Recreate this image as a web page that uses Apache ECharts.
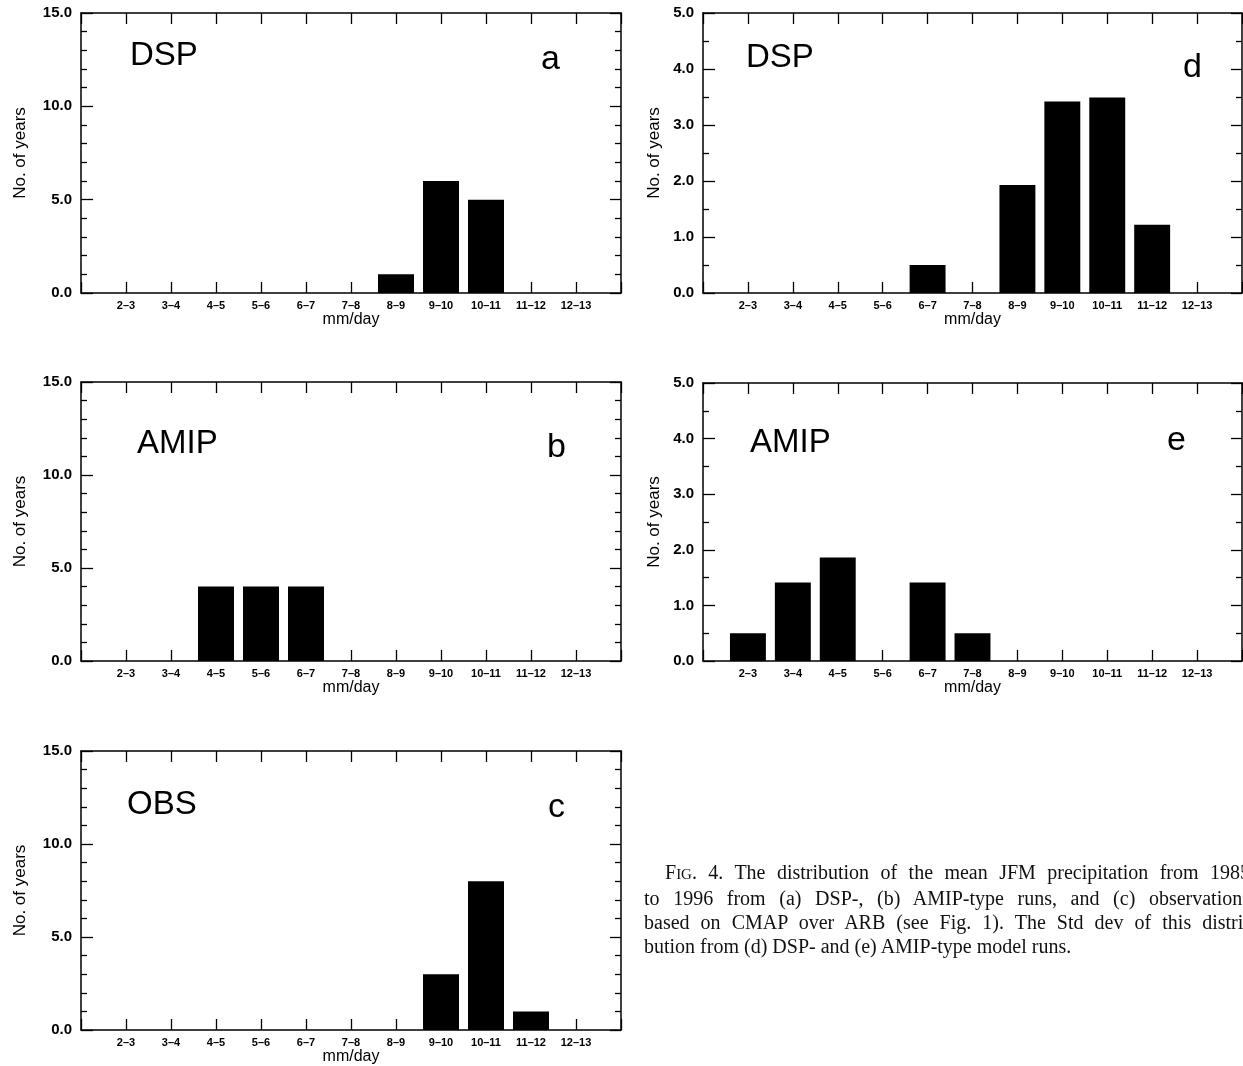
<!DOCTYPE html>
<html>
<head>
<meta charset="utf-8">
<script src="https://cdn.jsdelivr.net/npm/echarts@6/dist/echarts.min.js"></script>
<style>
  html, body { margin: 0; padding: 0; background: #fff; overflow: hidden; }
  #chart { position: absolute; left: 0; top: 0; width: 1243px; height: 1066px; }
  #cap { position: absolute; left: 644px; top: 860px; width: 606px; font-family: 'Liberation Serif', 'Times New Roman', serif; font-size: 20px; line-height: 24px; color: #111; z-index: 2; }
  #cap .j { text-align: justify; text-align-last: justify; }
</style>
</head>
<body>
<div id="chart"></div>
<div id="cap">
  <div class="j" style="text-indent:21px">F<span style="font-size:15px">IG</span>. 4. The distribution of the mean JFM precipitation from 1985</div>
  <div class="j">to 1996 from (a) DSP-, (b) AMIP-type runs, and (c) observations</div>
  <div class="j">based on CMAP over ARB (see Fig. 1). The Std dev of this distri-</div>
  <div>bution from (d) DSP- and (e) AMIP-type model runs.</div>
</div>
<script>
// ---- data ----
const categories = ['2–3','3–4','4–5','5–6','6–7','7–8','8–9','9–10','10–11','11–12','12–13'];
const dspCount  = [0, 0, 0, 0, 0, 0, 1, 6, 5, 0, 0];
const amipCount = [0, 0, 4, 4, 4, 0, 0, 0, 0, 0, 0];
const obsCount  = [0, 0, 0, 0, 0, 0, 0, 3, 8, 1, 0];
const dspStd    = [0, 0, 0, 0, 0.5, 0, 1.93, 3.42, 3.49, 1.22, 0];
const amipStd   = [0.5, 1.41, 1.86, 0, 1.41, 0.5, 0, 0, 0, 0, 0];
const countTickLabels = ['0.0', '5.0', '10.0', '15.0'];
const stdTickLabels   = ['0.0', '1.0', '2.0', '3.0', '4.0', '5.0'];
const panelNames = ['DSP', 'AMIP', 'OBS', 'DSP', 'AMIP'];
const panelLetters = ['a', 'b', 'c', 'd', 'e'];
const xName = 'mm/day';
const yName = 'No. of years';

// ---- layout / style ----
const FONT = "'Liberation Sans', Arial, Helvetica, sans-serif";
const BLACK = '#000';
const panels = [
  { grid: { left: 81,  top: 13,  width: 540, height: 280 }, data: dspCount,  ticks: countTickLabels, max: 15, interval: 5, minor: 5, nameGap: 52 },
  { grid: { left: 81,  top: 382, width: 540, height: 279 }, data: amipCount, ticks: countTickLabels, max: 15, interval: 5, minor: 5, nameGap: 52 },
  { grid: { left: 81,  top: 751, width: 540, height: 279 }, data: obsCount,  ticks: countTickLabels, max: 15, interval: 5, minor: 5, nameGap: 52 },
  { grid: { left: 703, top: 13,  width: 539, height: 280 }, data: dspStd,    ticks: stdTickLabels,   max: 5,  interval: 1, minor: 2, nameGap: 40 },
  { grid: { left: 703, top: 383, width: 539, height: 278 }, data: amipStd,   ticks: stdTickLabels,   max: 5,  interval: 1, minor: 2, nameGap: 40 }
];
const textPos = [
  { name: [130, 55.5], letter: [541, 60] },
  { name: [137, 443.5], letter: [547, 448] },
  { name: [127, 804.5], letter: [548, 808] },
  { name: [746, 57.5], letter: [1183, 68] },
  { name: [750, 442.5], letter: [1167, 441] }
];

const axisCats = [''].concat(categories, ['']);
const lineStyle = { color: BLACK, width: 1.5 };
const tickStyle = { color: BLACK, width: 1.3 };

const grids = [], xAxes = [], yAxes = [], series = [], graphic = [];
panels.forEach((p, i) => {
  grids.push(Object.assign({ containLabel: false, outerBoundsMode: 'none' }, p.grid));
  const xBase = () => ({
    gridIndex: i, type: 'category', data: axisCats, boundaryGap: false,
    axisLine: { show: true, onZero: false, lineStyle: lineStyle },
    axisTick: { show: true, inside: true, length: 11, interval: 0, lineStyle: tickStyle },
    splitLine: { show: false }
  });
  xAxes.push(Object.assign(xBase(), {
    position: 'bottom',
    axisLabel: { show: true, interval: 0, margin: 7, fontSize: 11, fontWeight: 'bold', color: BLACK, fontFamily: FONT },
    name: xName, nameLocation: 'middle', nameGap: 18,
    nameTextStyle: { fontSize: 16, color: BLACK, fontFamily: FONT }
  }));
  xAxes.push(Object.assign(xBase(), { position: 'top', axisLabel: { show: false } }));
  const yBase = () => ({
    gridIndex: i, type: 'value', min: 0, max: p.max, interval: p.interval,
    axisLine: { show: true, onZero: false, lineStyle: lineStyle },
    axisTick: { show: true, inside: true, length: 12, lineStyle: tickStyle },
    minorTick: { show: true, splitNumber: p.minor, length: 6, lineStyle: tickStyle },
    splitLine: { show: false }, minorSplitLine: { show: false }
  });
  const ticks = p.ticks;
  yAxes.push(Object.assign(yBase(), {
    position: 'left',
    axisLabel: { show: true, margin: 9, fontSize: 15, fontWeight: 'bold', color: BLACK, fontFamily: FONT,
      formatter: v => ticks[Math.round(v / p.interval)] },
    name: yName, nameLocation: 'middle', nameGap: p.nameGap, nameRotate: 90,
    nameTextStyle: { fontSize: 17, color: BLACK, fontFamily: FONT }
  }));
  yAxes.push(Object.assign(yBase(), { position: 'right', axisLabel: { show: false },
    axisTick: { show: true, inside: true, length: 11, lineStyle: tickStyle } }));
  series.push({
    type: 'bar', xAxisIndex: 2 * i, yAxisIndex: 2 * i,
    data: [null].concat(p.data, [null]),
    barWidth: '80%', itemStyle: { color: BLACK }, silent: true, animation: false
  });
  graphic.push({ type: 'text', x: textPos[i].name[0], y: textPos[i].name[1],
    style: { text: panelNames[i], font: '33px ' + FONT, fill: BLACK, align: 'left', verticalAlign: 'middle' } });
  graphic.push({ type: 'text', x: textPos[i].letter[0], y: textPos[i].letter[1],
    style: { text: panelLetters[i], font: '34px ' + FONT, fill: BLACK, align: 'left', verticalAlign: 'middle' } });
});

const chart = echarts.init(document.getElementById('chart'), null, { renderer: 'canvas' });
chart.setOption({
  backgroundColor: '#fff',
  animation: false,
  textStyle: { fontFamily: FONT },
  grid: grids, xAxis: xAxes, yAxis: yAxes, series: series, graphic: graphic
});
</script>
</body>
</html>
